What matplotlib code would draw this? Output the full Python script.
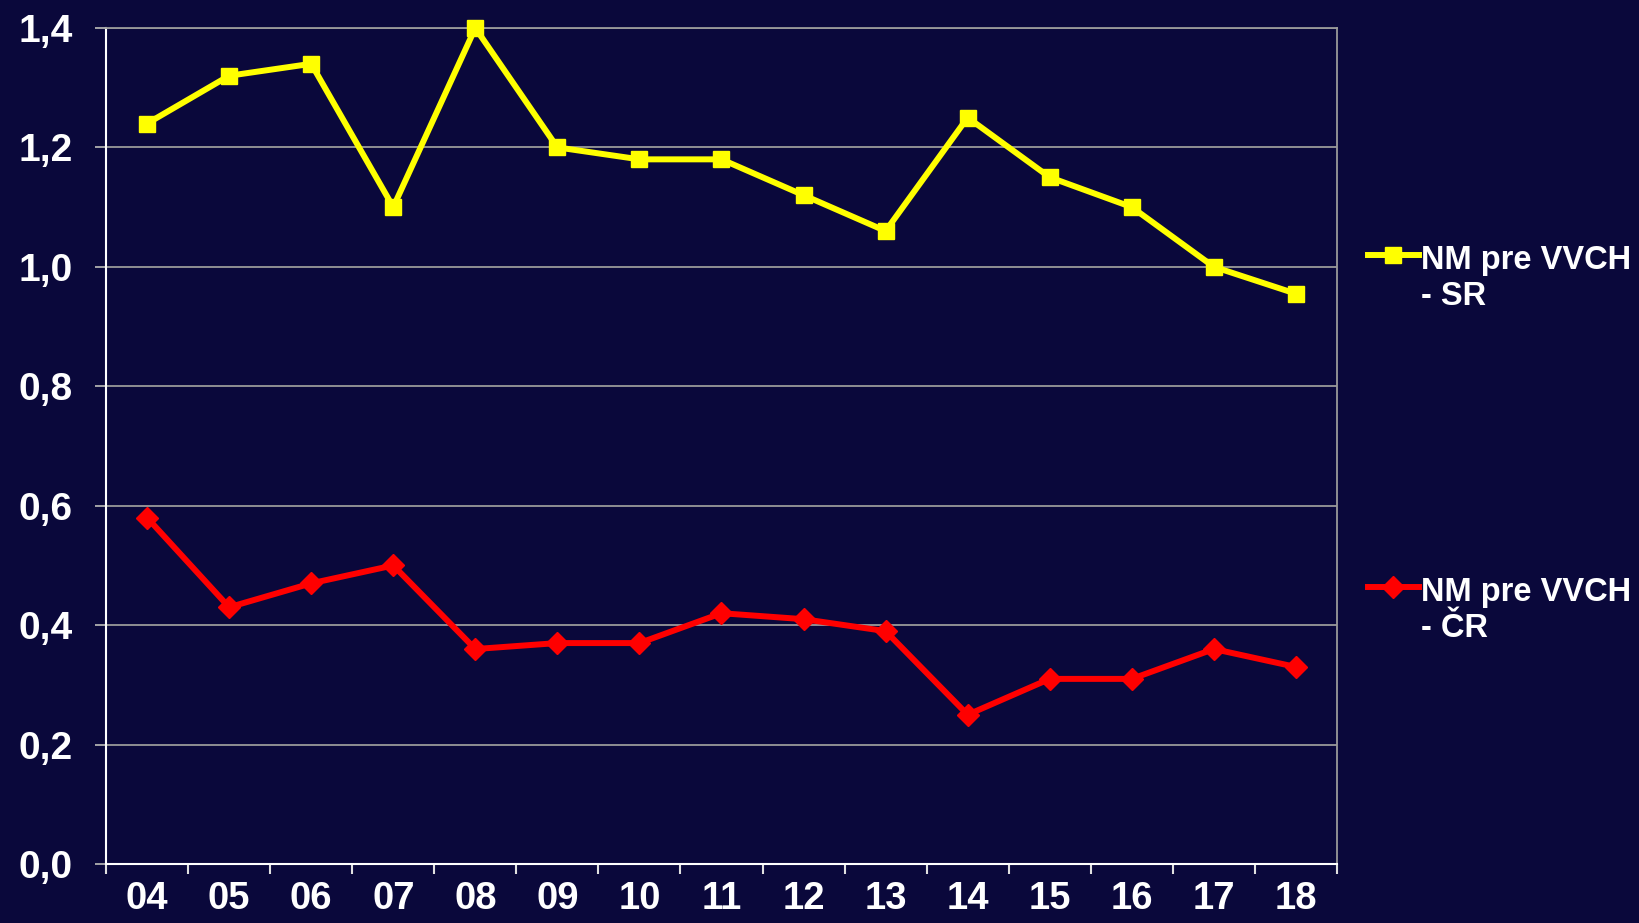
import matplotlib.pyplot as plt
from matplotlib.lines import Line2D
from matplotlib.ticker import FixedLocator

# data
years = ["04", "05", "06", "07", "08", "09", "10", "11", "12", "13", "14", "15", "16", "17", "18"]
nm_sr = [1.24, 1.32, 1.34, 1.10, 1.40, 1.20, 1.18, 1.18, 1.12, 1.06, 1.25, 1.15, 1.10, 1.00, 0.955]
nm_cr = [0.58, 0.43, 0.47, 0.50, 0.36, 0.37, 0.37, 0.42, 0.41, 0.39, 0.25, 0.31, 0.31, 0.36, 0.33]
y_ticks = [0.0, 0.2, 0.4, 0.6, 0.8, 1.0, 1.2, 1.4]
y_labels = ["0,0", "0,2", "0,4", "0,6", "0,8", "1,0", "1,2", "1,4"]
label_sr = "NM pre VVCH\n- SR"
label_cr = "NM pre VVCH\n- ČR"

bg = "#0a083b"
plt.rcParams["font.family"] = ["Liberation Sans", "DejaVu Sans"]
plt.rcParams["font.weight"] = "bold"

fig = plt.figure(figsize=(16.39, 9.23), dpi=100, facecolor=bg)
ax = fig.add_axes([0.0647, 0.0639, 0.7510, 0.9058])
ax.set_facecolor(bg)

x = list(range(len(years)))
ax.plot(x, nm_sr, color="#ffff00", lw=4.3, marker="s", ms=12, zorder=3, clip_on=False)
ax.plot(x, nm_cr, color="#ff0000", lw=4.3, marker="D", ms=11, zorder=3, clip_on=False)

ax.set_xlim(-0.5, len(years) - 0.5)
ax.set_ylim(0, 1.4)

ax.set_yticks(y_ticks)
ax.set_yticklabels(y_labels)
ax.yaxis.grid(True, color="#9a9a9a", lw=1.3)
ax.set_axisbelow(True)

ax.set_xticks(x)
ax.set_xticklabels(years)
ax.xaxis.set_minor_locator(FixedLocator([i - 0.5 for i in range(len(years) + 1)]))
ax.tick_params(axis="x", which="major", length=0, pad=12, labelsize=27.5, labelcolor="white")
ax.tick_params(axis="x", which="minor", length=7, width=1.5, color="#e0e0e0", direction="out")
ax.tick_params(axis="y", length=8, width=1.3, color="#b0b0b0", pad=16, labelsize=28, labelcolor="white")

for s in ["left", "bottom"]:
    ax.spines[s].set_color("white")
    ax.spines[s].set_linewidth(1.5)
for s in ["top", "right"]:
    ax.spines[s].set_color("#9a9a9a")
    ax.spines[s].set_linewidth(1.3)

# legend entries on the right
def legend_entry(yc, color, marker, ms, label):
    fig.add_artist(Line2D([1368 / 1639, 1419 / 1639], [yc, yc], color=color, lw=4.3,
                          transform=fig.transFigure))
    fig.add_artist(Line2D([1393 / 1639], [yc], color=color, marker=marker, ms=ms,
                          transform=fig.transFigure))
    fig.text(1421 / 1639, yc + 0.011, label, color="white", fontsize=23.5, fontweight="bold",
             va="top", ha="left", linespacing=1.2)

legend_entry(1 - 255 / 923, "#ffff00", "s", 12, label_sr)
legend_entry(1 - 587 / 923, "#ff0000", "D", 11, label_cr)

fig.savefig("out.png", dpi=100, facecolor=bg)
